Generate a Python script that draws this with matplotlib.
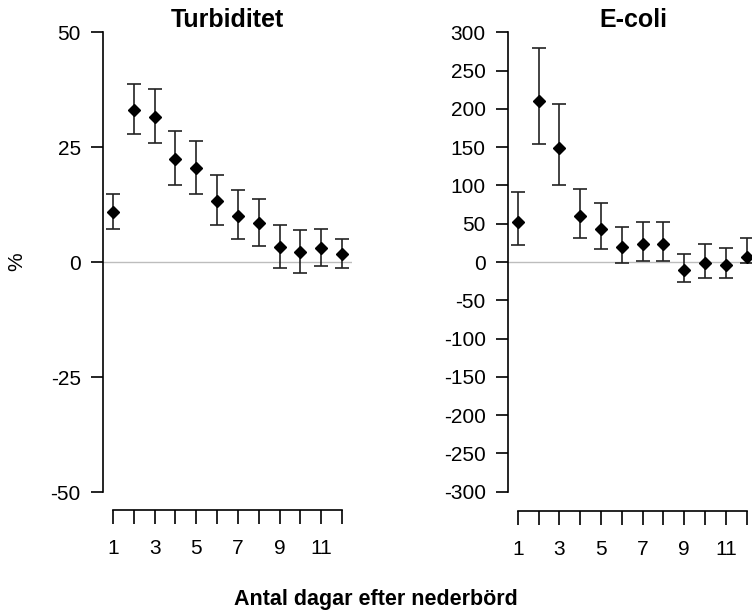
import matplotlib
matplotlib.use("Agg")
import matplotlib.pyplot as plt

# data: dagar efter nederbörd
dagar = [1, 2, 3, 4, 5, 6, 7, 8, 9, 10, 11, 12]

# turbiditet (%), medel och konfidensintervall
turb = [10.9, 33.1, 31.6, 22.5, 20.4, 13.3, 10.1, 8.4, 3.2, 2.2, 3.0, 1.7]
turb_hi = [14.7, 38.8, 37.7, 28.5, 26.4, 19.0, 15.6, 13.8, 8.1, 6.9, 7.2, 5.1]
turb_lo = [7.2, 27.9, 25.9, 16.7, 14.7, 8.0, 4.9, 3.5, -1.4, -2.3, -0.9, -1.4]

# e-coli (%)
ecoli = [52.6, 210.7, 148.5, 60.0, 43.5, 19.2, 23.9, 23.1, -10.4, -1.7, -3.9, 6.5]
ecoli_hi = [91.4, 279.5, 206.8, 94.9, 77.5, 46.1, 51.8, 51.8, 10.0, 23.9, 18.7, 30.9]
ecoli_lo = [22.2, 153.7, 100.1, 30.9, 17.4, -1.7, 0.9, 0.9, -26.1, -20.4, -20.4, -1.7]

turb_ticks = [-50, -25, 0, 25, 50]
ecoli_ticks = list(range(-300, 301, 50))
x_ticks = [1, 3, 5, 7, 9, 11]

plt.rcParams['font.family'] = ['Liberation Sans', 'DejaVu Sans']
plt.rcParams['axes.unicode_minus'] = False  # vanligt bindestreck som i R

W, H = 752, 615
fig = plt.figure(figsize=(W / 100, H / 100), dpi=100)


def px_rect(left, top, right, bottom):
    # pixel -> figur-koordinater
    return [left / W, 1 - bottom / H, (right - left) / W, (bottom - top) / H]


def panel(ax, y, hi, lo, ticks, ylim, xlim, title):
    yerr = [[v - l for v, l in zip(y, lo)], [h - v for v, h in zip(y, hi)]]
    ax.axhline(0, color='#bdbdbd', lw=1, zorder=1)
    ax.errorbar(dagar, y, yerr=yerr, fmt='D', color='black', ms=6,
                ecolor='#222222', elinewidth=1.2, capsize=5, capthick=1.2, zorder=3)
    ax.set_xlim(*xlim)
    ax.set_ylim(*ylim)
    for s in ['top', 'right']:
        ax.spines[s].set_visible(False)
    ax.spines['left'].set_bounds(ticks[0], ticks[-1])
    ax.spines['bottom'].set_bounds(1, 12)
    ax.spines['left'].set_linewidth(1.2)
    ax.spines['bottom'].set_linewidth(1.2)
    ax.set_yticks(ticks)
    ax.set_xticks(dagar)
    ax.set_xticklabels([str(d) if d in x_ticks else '' for d in dagar])
    ax.tick_params(axis='y', length=9, width=1.2, pad=7, labelsize=15)
    ax.tick_params(axis='x', length=10, width=1.2, pad=11, labelsize=15)
    ax.set_title(title, fontsize=18, fontweight='bold', pad=3)


ax1 = fig.add_axes(px_rect(103, 32, 352, 510))
panel(ax1, turb, turb_hi, turb_lo, turb_ticks, (-53.9, 50), (0.52, 12.48), 'Turbiditet')

ax2 = fig.add_axes(px_rect(508, 32.3, 758, 510.7))
panel(ax2, ecoli, ecoli_hi, ecoli_lo, ecoli_ticks, (-324.8, 300), (0.534, 12.54), 'E-coli')

# y-etikett och gemensam x-etikett
fig.text(17 / W, 1 - 262 / H, '%', rotation=90, ha='center', va='center', fontsize=15)
fig.text(376 / W, 1 - 600 / H, 'Antal dagar efter nederbörd', ha='center', va='center',
         fontsize=15.5, fontweight='bold')

fig.savefig('out.png', dpi=100)
